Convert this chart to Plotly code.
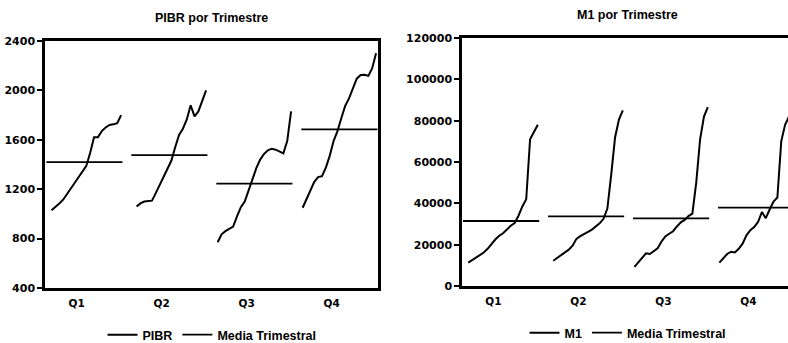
import plotly.graph_objects as go

# ---------------- data ----------------
quarters = ["Q1", "Q2", "Q3", "Q4"]

# PIBR by quarter, one value per year (None = year without that quarter)
pibr_q1 = [None, 1030, 1055, 1085, 1115, 1160, 1205, 1245, 1290, 1335, 1390, 1495, 1620, 1620, 1670, 1700, 1720, 1725, 1735, 1800]
pibr_q2 = [None, 1060, 1085, 1100, 1105, 1107, 1170, 1237, 1300, 1360, 1430, 1540, 1640, 1690, 1765, 1880, 1790, 1830, 1920, 2000]
pibr_q3 = [770, 835, 860, 880, 898, 980, 1055, 1100, 1190, 1280, 1370, 1440, 1485, 1515, 1528, 1520, 1505, 1490, 1590, 1830]
pibr_q4 = [1050, 1125, 1195, 1260, 1298, 1305, 1375, 1470, 1590, 1670, 1775, 1874, 1935, 2020, 2095, 2125, 2126, 2118, 2180, 2300]
pibr_means = [1420, 1476, 1245, 1685]

# M1 by quarter
m1_q1 = [None, 11300, 12600, 14000, 15300, 16200, 18000, 20300, 22500, 24300, 25500, 27300, 29200, 30500, 34000, 38500, 42000, 71000, 74500, 78000]
m1_q2 = [None, 12200, 13500, 14700, 16000, 17600, 19500, 22800, 24100, 25000, 26200, 27300, 29000, 30300, 32500, 37500, 54000, 72000, 80500, 85000]
m1_q3 = [9300, 11500, 14000, 15800, 15500, 16700, 18200, 21500, 24000, 25300, 26500, 28800, 30800, 32000, 33800, 35000, 50000, 71000, 82000, 86500]
m1_q4 = [11300, 13300, 15500, 16600, 16200, 18000, 20500, 24500, 27000, 28500, 31000, 35800, 32800, 37000, 40800, 42800, 70000, 78000, 82000, 86000]
m1_means = [31450, 33700, 32700, 37900]

pibr_ticks = [400, 800, 1200, 1600, 2000, 2400]
m1_ticks = [0, 20000, 40000, 60000, 80000, 100000, 120000]

# ---------------- layout constants ----------------
PITCH = 22          # x units between quarter panels
MEAN_PAD = 0.35     # extension of mean line beyond first/last year
LABEL_OFF = 7.5     # position of quarter label inside panel
BLACK = "#000000"
TICK_FONT = dict(family="DejaVu Sans", size=11, color=BLACK, weight="bold")
XLAB_FONT = dict(family="DejaVu Sans", size=10.5, color=BLACK, weight="bold")
TEXT_FONT = dict(family="Liberation Sans", size=12.5, color=BLACK, weight="bold")


def stacked(series_list):
    xs, ys = [], []
    for k, s in enumerate(series_list):
        for i, v in enumerate(s):
            xs.append(k * PITCH + i)
            ys.append(v)
        xs.append(None)
        ys.append(None)
    return xs, ys


def mean_lines(means, n):
    xs, ys = [], []
    for k, m in enumerate(means):
        xs += [k * PITCH - MEAN_PAD, k * PITCH + n - 1 + MEAN_PAD, None]
        ys += [m, m, None]
    return xs, ys


fig = go.Figure()

px_, py_ = stacked([pibr_q1, pibr_q2, pibr_q3, pibr_q4])
mx_, my_ = mean_lines(pibr_means, len(pibr_q1))
fig.add_trace(go.Scatter(x=px_, y=py_, mode="lines", name="PIBR",
                         line=dict(color=BLACK, width=2), xaxis="x", yaxis="y",
                         legend="legend", connectgaps=False))
fig.add_trace(go.Scatter(x=mx_, y=my_, mode="lines", name="Media Trimestral",
                         line=dict(color=BLACK, width=1.8), xaxis="x", yaxis="y",
                         legend="legend", connectgaps=False))

qx_, qy_ = stacked([m1_q1, m1_q2, m1_q3, m1_q4])
nx_, ny_ = mean_lines(m1_means, len(m1_q1))
fig.add_trace(go.Scatter(x=qx_, y=qy_, mode="lines", name="M1",
                         line=dict(color=BLACK, width=2), xaxis="x2", yaxis="y2",
                         legend="legend2", connectgaps=False))
fig.add_trace(go.Scatter(x=nx_, y=ny_, mode="lines", name="Media Trimestral",
                         line=dict(color=BLACK, width=1.8), xaxis="x2", yaxis="y2",
                         legend="legend2", connectgaps=False))

tickvals = [k * PITCH + LABEL_OFF for k in range(len(quarters))]

W, H = 788, 343
L1, R1, T1, B1 = 45, 378, 41, 288
L2, R2, T2, B2 = 462, 788, 38, 286

common_x = dict(showgrid=False, zeroline=False, showline=True, linecolor=BLACK,
                linewidth=2.5, ticks="", tickfont=XLAB_FONT, tickmode="array",
                tickvals=tickvals, ticktext=quarters, automargin=False,
                fixedrange=True, ticklabelstandoff=4)
common_y = dict(showgrid=False, zeroline=False, showline=True, linecolor=BLACK,
                linewidth=2.5, ticks="outside", ticklen=5, tickwidth=1.5,
                tickcolor=BLACK, tickfont=TICK_FONT, tickmode="array",
                tickformat="d", automargin=False, fixedrange=True)

fig.update_layout(
    width=W, height=H,
    margin=dict(l=0, r=0, t=0, b=0, autoexpand=False),
    paper_bgcolor="white", plot_bgcolor="white",
    xaxis=dict(common_x, domain=[L1 / W, R1 / W], range=[-0.7, 85.5],
               anchor="y", mirror=True),
    yaxis=dict(common_y, domain=[1 - B1 / H, 1 - T1 / H], range=[400, 2400],
               tickvals=pibr_ticks, anchor="x", mirror=True),
    xaxis2=dict(common_x, domain=[L2 / W, R2 / W], range=[-0.62, 83.75],
                anchor="y2", mirror=True),
    yaxis2=dict(common_y, domain=[1 - B2 / H, 1 - T2 / H], range=[0, 120000],
                tickvals=m1_ticks, anchor="x2", mirror=False),
    legend=dict(orientation="h", x=212 / W, xanchor="center",
                y=1 - 335 / H, yanchor="middle", font=TEXT_FONT,
                bgcolor="rgba(0,0,0,0)", itemwidth=30, tracegroupgap=0),
    legend2=dict(orientation="h", x=628 / W, xanchor="center",
                 y=1 - 333 / H, yanchor="middle", font=TEXT_FONT,
                 bgcolor="rgba(0,0,0,0)", itemwidth=30, tracegroupgap=0),
    annotations=[
        dict(text="PIBR por Trimestre", x=(L1 + R1) / 2 / W, y=1 - 18 / H,
             xref="paper", yref="paper", xanchor="center", yanchor="middle",
             showarrow=False, font=TEXT_FONT),
        dict(text="M1 por Trimestre", x=627 / W, y=1 - 15 / H,
             xref="paper", yref="paper", xanchor="center", yanchor="middle",
             showarrow=False, font=TEXT_FONT),
    ],
    showlegend=True,
)

fig.write_html("out.html")
